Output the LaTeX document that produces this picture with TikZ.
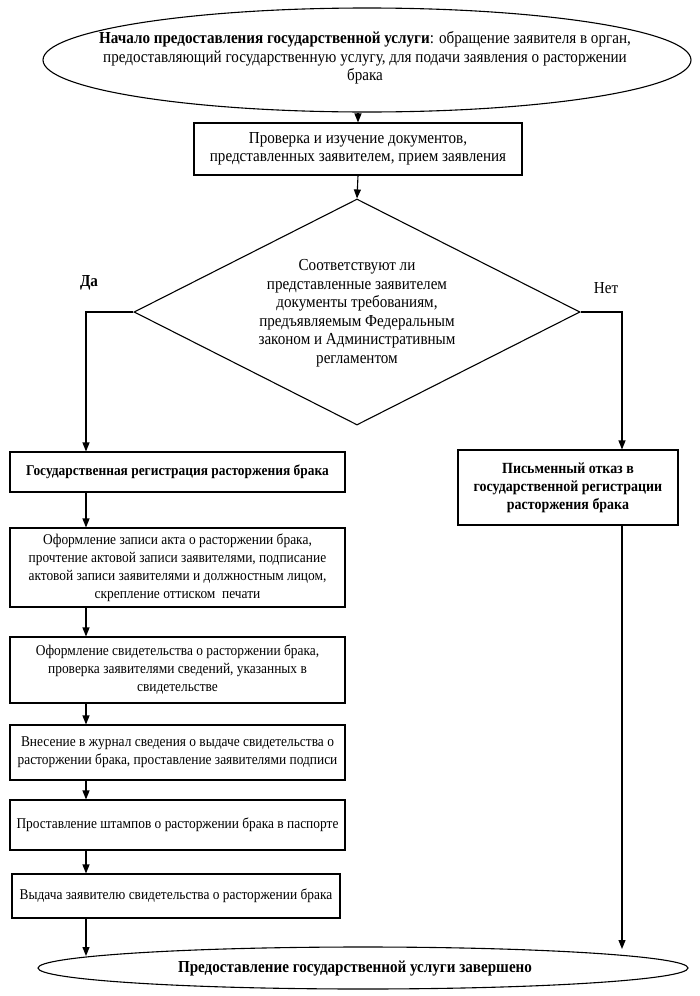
\documentclass[tikz,border=0pt]{standalone}
\usepackage{fontspec}
\setmainfont{Liberation Serif}[FakeStretch=0.9]
\usetikzlibrary{arrows.meta,shapes.geometric}
\tikzset{
  every node/.style={font=\fontsize{16.8}{18.5}\selectfont, align=center},
  colfont/.style={font=\fontsize{14.9}{18}\selectfont},
  box/.style={draw, line width=1.1pt, inner sep=2pt},
  oval/.style={draw, ellipse, line width=1.1pt, inner sep=0pt},
  decision/.style={draw, diamond, aspect=2, line width=1.1pt, inner sep=0pt, minimum width=446pt, minimum height=226pt},
  plain/.style={inner sep=0pt},
  arr/.style={line width=1.1pt, -{Triangle[length=9pt,width=7pt]}},
  ln/.style={line width=1.1pt}
}
\begin{document}
\begin{tikzpicture}[x=1pt,y=-1pt]
\useasboundingbox (0,0) rectangle (700,996);
\coordinate (lx) at (86,0);
\coordinate (rx) at (622,0);
% start
\node[oval, minimum width=648pt, minimum height=104pt] (start) at (367,60) {};
\node[plain] (starttxt) at (365,58) {\textbf{Начало предоставления государственной услуги}: обращение заявителя в орган,\\
предоставляющий государственную услугу, для подачи заявления о расторжении\\
брака};
\node[box, minimum width=328pt, minimum height=52pt] (check) at (358,149) {Проверка и изучение документов,\\представленных заявителем, прием заявления};
\node[decision] (dec) at (357,312) {};
\node[plain] (dectxt) at (357,313) {Соответствуют ли\\представленные заявителем\\документы требованиям,\\предъявляемым Федеральным\\законом и Административным\\регламентом};
\node[plain] (yes) at (89,283) {\textbf{Да}};
\node[plain] (no) at (606,288) {Нет};
% left column
\node[box, colfont, minimum width=335pt, minimum height=40pt] (b1) at (177.5,472) {\textbf{Государственная регистрация расторжения брака}};
\node[box, colfont, minimum width=335pt, minimum height=79pt] (b2) at (177.5,567.5) {Оформление записи акта о расторжении брака,\\прочтение актовой записи заявителями, подписание\\актовой записи заявителями и должностным лицом,\\скрепление оттиском\ \ печати};
\node[box, colfont, minimum width=335pt, minimum height=66pt] (b3) at (177.5,670) {Оформление свидетельства о расторжении брака,\\проверка заявителями сведений, указанных в\\свидетельстве};
\node[box, colfont, minimum width=335pt, minimum height=55pt] (b4) at (177.5,752.5) {Внесение в журнал сведения о выдаче свидетельства о\\расторжении брака, проставление заявителями подписи};
\node[box, colfont, minimum width=335pt, minimum height=50pt] (b5) at (177.5,825) {\raisebox{4pt}{Проставление штампов о расторжении брака в паспорте}};
\node[box, colfont, minimum width=328pt, minimum height=44pt] (b6) at (176,896) {\raisebox{3pt}{Выдача заявителю свидетельства о расторжении брака}};
% right
\node[box, font=\fontsize{15.5}{18}\selectfont, minimum width=220pt, minimum height=75pt] (refuse) at (568,487.5) {\textbf{Письменный отказ в}\\\textbf{государственной регистрации}\\\textbf{расторжения брака}};
% end
\node[oval, minimum width=650pt, minimum height=42pt] (end) at (363,968) {};
\node[plain] (endtxt) at (355,969) {\textbf{Предоставление государственной услуги завершено}};
\coordinate (endL) at (86,956);
\coordinate (endR) at (622,949);
% connectors
\draw[arr] (start.south -| check.north) -- (check.north);
\draw[arr] (check.south) -- (dec.north);
\draw[arr] (dec.west) -- (dec.west -| lx) -- (b1.north -| lx);
\draw[arr] (dec.east) -- (dec.east -| rx) -- (refuse.north -| rx);
\draw[arr] (b1.south -| lx) -- (b2.north -| lx);
\draw[arr] (b2.south -| lx) -- (b3.north -| lx);
\draw[arr] (b3.south -| lx) -- (b4.north -| lx);
\draw[arr] (b4.south -| lx) -- (b5.north -| lx);
\draw[arr] (b5.south -| lx) -- (b6.north -| lx);
\draw[arr] (b6.south -| lx) -- (endL);
\draw[arr] (refuse.south -| rx) -- (endR);
\end{tikzpicture}
\end{document}
